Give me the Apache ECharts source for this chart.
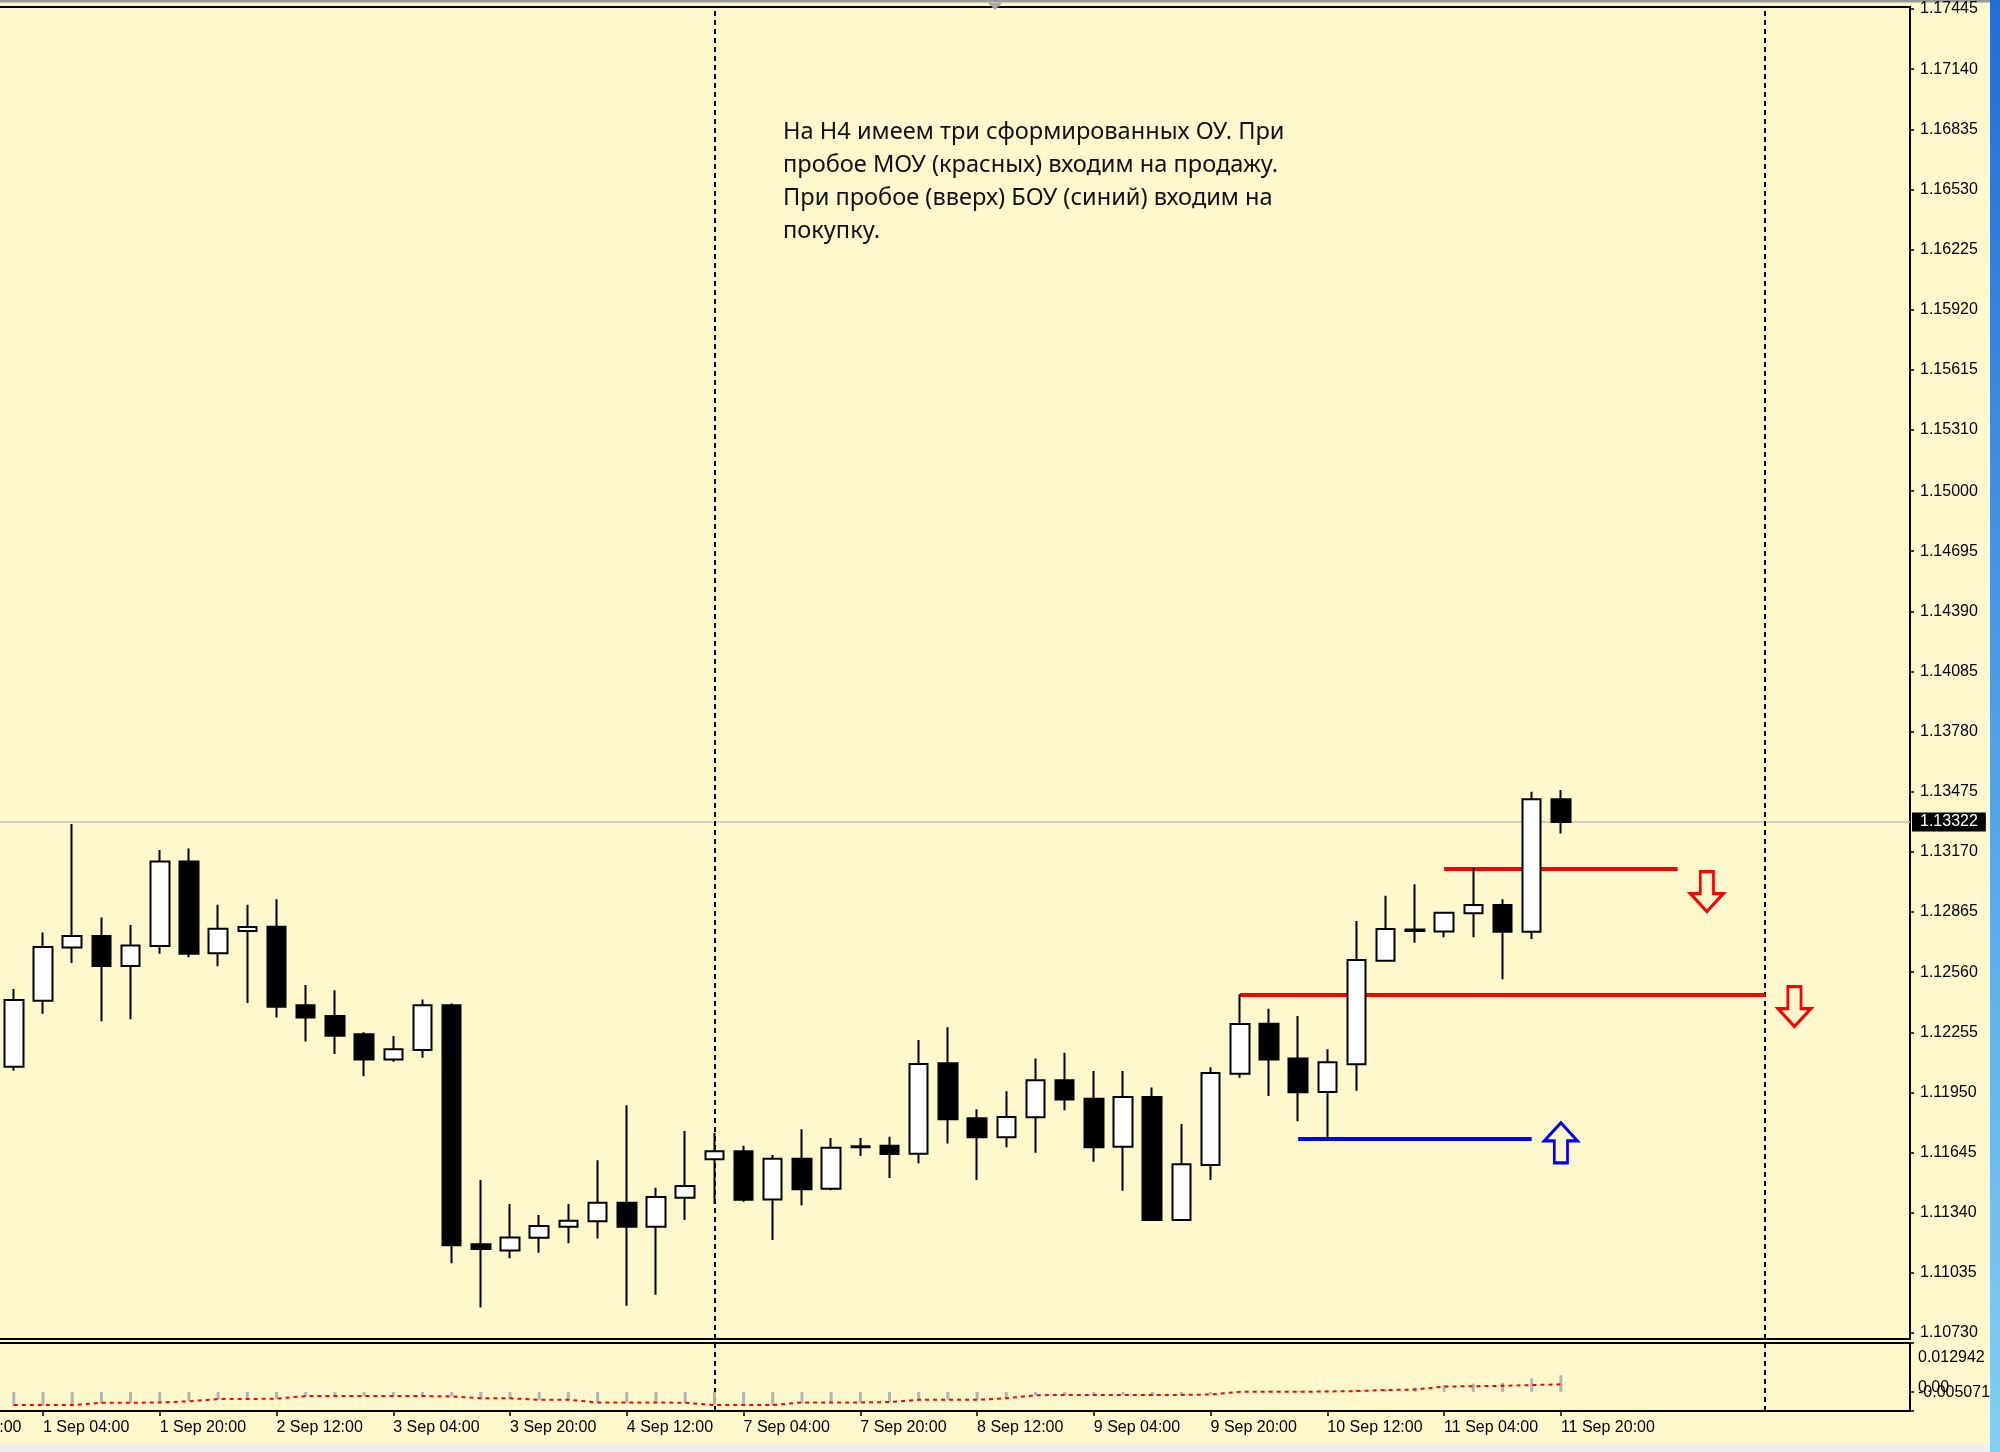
<!DOCTYPE html>
<html><head><meta charset="utf-8">
<script src="https://cdn.jsdelivr.net/npm/echarts@6/dist/echarts.min.js"></script>
<style>html,body{margin:0;padding:0;background:#FFF8CC;}#c{width:2000px;height:1452px;}</style>
</head><body><div id="c"></div>
<script>
// ---- data ----
const candleTimes = [
 '1 Sep 00:00','1 Sep 04:00','1 Sep 08:00','1 Sep 12:00','1 Sep 16:00','1 Sep 20:00',
 '2 Sep 00:00','2 Sep 04:00','2 Sep 08:00','2 Sep 12:00','2 Sep 16:00','2 Sep 20:00',
 '3 Sep 00:00','3 Sep 04:00','3 Sep 08:00','3 Sep 12:00','3 Sep 16:00','3 Sep 20:00',
 '4 Sep 00:00','4 Sep 04:00','4 Sep 08:00','4 Sep 12:00','4 Sep 16:00','4 Sep 20:00',
 '7 Sep 00:00','7 Sep 04:00','7 Sep 08:00','7 Sep 12:00','7 Sep 16:00','7 Sep 20:00',
 '8 Sep 00:00','8 Sep 04:00','8 Sep 08:00','8 Sep 12:00','8 Sep 16:00','8 Sep 20:00',
 '9 Sep 00:00','9 Sep 04:00','9 Sep 08:00','9 Sep 12:00','9 Sep 16:00','9 Sep 20:00',
 '10 Sep 00:00','10 Sep 04:00','10 Sep 08:00','10 Sep 12:00','10 Sep 16:00','10 Sep 20:00',
 '11 Sep 00:00','11 Sep 04:00','11 Sep 08:00','11 Sep 12:00','11 Sep 16:00','11 Sep 20:00'];
const openP  = [1.12081,1.12415,1.12686,1.12744,1.12591,1.12693,1.13122,1.12656,1.12769,1.12791,
  1.12392,1.12338,1.12245,1.12118,1.12165,1.12392,1.11180,1.11149,1.11213,1.11269,
  1.11297,1.11391,1.11269,1.11416,1.11611,1.11652,1.11408,1.11614,1.11462,1.11677,
  1.11680,1.11639,1.12098,1.11819,1.11723,1.11824,1.12012,1.11918,1.11675,1.11927,
  1.11303,1.11582,1.12045,1.12299,1.12123,1.11952,1.12093,1.12618,1.12777,1.12767,
  1.12859,1.12901,1.12765,1.13437];
const closeP = [1.12419,1.12688,1.12744,1.12591,1.12696,1.13122,1.12654,1.12781,1.12789,1.12385,
  1.12331,1.12238,1.12118,1.12169,1.12392,1.11175,1.11156,1.11215,1.11273,1.11300,
  1.11391,1.11269,1.11420,1.11476,1.11652,1.11406,1.11614,1.11460,1.11670,1.11673,
  1.11638,1.12094,1.11814,1.11723,1.11826,1.12012,1.11915,1.11673,1.11927,1.11303,
  1.11586,1.12049,1.12297,1.12118,1.11951,1.12103,1.12622,1.12779,1.12769,1.12862,
  1.12901,1.12765,1.13437,1.13322];
const lowP   = [1.12060,1.12349,1.12607,1.12312,1.12321,1.12654,1.12636,1.12590,1.12404,1.12331,
  1.12209,1.12145,1.12033,1.12106,1.12126,1.11084,1.10860,1.11109,1.11137,1.11185,
  1.11210,1.10868,1.10924,1.11303,1.11386,1.11396,1.11202,1.11378,1.11454,1.11628,
  1.11516,1.11591,1.11692,1.11506,1.11673,1.11644,1.11860,1.11599,1.11452,1.11303,
  1.11303,1.11506,1.12025,1.11932,1.11804,1.11714,1.11959,1.12618,1.12710,1.12737,
  1.12737,1.12524,1.12728,1.13264];
const highP  = [1.12475,1.12762,1.13312,1.12838,1.12799,1.13180,1.13188,1.12902,1.12902,1.12930,
  1.12495,1.12468,1.12255,1.12236,1.12422,1.12402,1.11506,1.11384,1.11329,1.11384,
  1.11607,1.11885,1.11467,1.11755,1.11746,1.11680,1.11633,1.11764,1.11719,1.11719,
  1.11726,1.12216,1.12281,1.11865,1.11957,1.12123,1.12152,1.12059,1.12059,1.11976,
  1.11790,1.12078,1.12448,1.12375,1.12338,1.12170,1.12820,1.12948,1.13006,1.12862,
  1.13090,1.12930,1.13475,1.13484];

const priceTickLabels = ['1.10730','1.11035','1.11340','1.11645','1.11950','1.12255','1.12560','1.12865',
  '1.13170','1.13475','1.13780','1.14085','1.14390','1.14695','1.15000','1.15310','1.15615','1.15920',
  '1.16225','1.16530','1.16835','1.17140','1.17445'];
const priceTicks = priceTickLabels.map(Number);
const xTickIdx = [-3,1,5,9,13,17,21,25,29,33,37,41,45,49,53];
const xTickLabels = ['31 Aug 12:00','1 Sep 04:00','1 Sep 20:00','2 Sep 12:00','3 Sep 04:00','3 Sep 20:00',
  '4 Sep 12:00','7 Sep 04:00','7 Sep 20:00','8 Sep 12:00','9 Sep 04:00','9 Sep 20:00','10 Sep 12:00',
  '11 Sep 04:00','11 Sep 20:00'];

const oscHist = [-0.0038,-0.0037,-0.0036,-0.0031,-0.0030,-0.0027,-0.0024,-0.0020,-0.0019,-0.0018,
  -0.0013,-0.0012,-0.0012,-0.0011,-0.0010,-0.0012,-0.0018,-0.0019,-0.0022,-0.0022,
  -0.0027,-0.0029,-0.0029,-0.0030,-0.0036,-0.0037,-0.0036,-0.0030,-0.0029,-0.0028,
  -0.0027,-0.0022,-0.0021,-0.0021,-0.0017,-0.0009,-0.0008,-0.0009,-0.0008,-0.0009,
  -0.0008,-0.0006,0.0002,0.0003,0.0003,0.0004,0.0006,0.0008,0.0012,0.0018,
  0.0022,0.0024,0.0036,0.0044];
const oscSignal = [-0.0035,-0.0035,-0.0035,-0.0029,-0.0029,-0.0028,-0.0025,-0.0019,-0.0019,-0.0018,
  -0.0011,-0.0011,-0.0011,-0.0011,-0.0011,-0.0012,-0.0017,-0.0017,-0.0021,-0.0021,
  -0.0028,-0.0028,-0.0028,-0.0029,-0.0035,-0.0035,-0.0035,-0.0028,-0.0028,-0.0028,
  -0.0027,-0.0021,-0.0021,-0.0021,-0.0017,-0.0009,-0.0008,-0.0008,-0.0008,-0.0008,
  -0.0008,-0.0007,0.0000,0.0000,0.0000,0.0001,0.0002,0.0005,0.0006,0.0014,
  0.0015,0.0016,0.0018,0.0020];
const oscMax = 0.012942, oscMin = -0.005071, oscZero = 0;
const oscMaxLabel = '0.012942', oscMinLabel = '-0.005071', oscZeroLabel = '0.00';

const lastPrice = 1.13322;
const separators = [24, 60];
const redLevel1 = [49, 57, 1.13083];
const redLevel2 = [42, 60, 1.12448];
const blueLevel = [44, 52, 1.11714];
const sellArrows = [[58, 1.12969], [61, 1.12386]];
const buyArrows = [[53, 1.11695]];
const noteLines = ['На H4 имеем три сформированных ОУ. При','пробое МОУ (красных) входим на продажу.',
  'При пробое (вверх) БОУ (синий) входим на','покупку.'];

// ---- chart ----
const BG = '#FFF8CC';
const FONT = 'Liberation Sans';
const candleData = openP.map((o, i) => [i, o, closeP[i], lowP[i], highP[i]]);
const histData = oscHist.map((v, i) => [i, v]);
const sigData = oscSignal.map((v, i) => [i, v]);
function nearestLabel(v, ticks, labels) {
  let best = 0;
  for (let i = 1; i < ticks.length; i++) if (Math.abs(ticks[i] - v) < Math.abs(ticks[best] - v)) best = i;
  return labels[best];
}
const downArrow = 'path://M9,0 L21,0 L21,22 L30,22 L15,40 L0,22 L9,22 Z';
const upArrow = 'path://M9,40 L21,40 L21,18 L30,18 L15,0 L0,18 L9,18 Z';
const sepLine = v => ({xAxis: v, lineStyle: {color: '#000', width: 2, type: [5, 4]}});
const seg = (lv, color) => [
  {coord: [lv[0], lv[2]], lineStyle: {color: color, width: 4, type: 'solid'}},
  {coord: [lv[1], lv[2]]}];
const arrowPt = (p, sym, color) => ({coord: p, symbol: sym, symbolSize: [33, 40],
  itemStyle: {color: BG, borderColor: color, borderWidth: 3}});
const labelBase = {fontSize: 16, fontFamily: FONT, color: '#000'};

const chart = echarts.init(document.getElementById('c'), null, {renderer: 'canvas'});
chart.setOption({
  backgroundColor: BG,
  animation: false,
  grid: [
    {left: -73.77, right: 90, top: 7, height: 1332, show: true, borderColor: '#000', borderWidth: 2,
     backgroundColor: 'transparent', containLabel: false, outerBoundsMode: 'none'},
    {left: -73.77, right: 90, top: 1343, height: 68, show: true, borderColor: '#000', borderWidth: 2,
     backgroundColor: 'transparent', containLabel: false, outerBoundsMode: 'none'}
  ],
  xAxis: [
    {gridIndex: 0, type: 'value', min: -3, max: 64.96, show: false},
    {gridIndex: 1, type: 'value', min: -3, max: 64.96, splitLine: {show: false},
     axisLine: {show: true, onZero: false, lineStyle: {color: '#000', width: 2}},
     axisTick: {show: true, length: 5, customValues: xTickIdx, lineStyle: {color: '#000', width: 1.5}},
     axisLabel: Object.assign({customValues: xTickIdx, align: 'left', margin: 9,
       hideOverlap: false, showMinLabel: true, showMaxLabel: true,
       formatter: v => nearestLabel(v, xTickIdx, xTickLabels)}, labelBase)}
  ],
  yAxis: [
    {gridIndex: 0, type: 'value', position: 'right', min: 1.10700, max: 1.17455, splitLine: {show: false},
     axisLine: {show: true, onZero: false, lineStyle: {color: '#000', width: 2}},
     axisTick: {show: true, length: 4, customValues: priceTicks, lineStyle: {color: '#000', width: 1.5}},
     axisLabel: Object.assign({customValues: priceTicks, margin: 10,
       hideOverlap: false, showMinLabel: true, showMaxLabel: true,
       formatter: v => nearestLabel(v, priceTicks, priceTickLabels)}, labelBase)},
    {gridIndex: 1, type: 'value', position: 'right', min: oscMin, max: oscMax, splitLine: {show: false},
     axisLine: {show: true, onZero: false, lineStyle: {color: '#000', width: 2}},
     axisTick: {show: true, length: 4, customValues: [oscMax, oscMin], lineStyle: {color: '#000', width: 1.5}},
     axisLabel: {customValues: [oscMax, oscMin], margin: 8,
       hideOverlap: false, showMinLabel: true, showMaxLabel: true,
       formatter: v => (v > 0 ? '{t|' + oscMaxLabel + '}' : '{b|' + oscMinLabel + '}'),
       rich: {t: Object.assign({padding: [30, 0, 0, 0]}, labelBase),
              b: Object.assign({padding: [0, 0, 36, 0]}, labelBase)}}},
    {gridIndex: 1, type: 'value', position: 'right', min: oscMin, max: oscMax, splitLine: {show: false},
     axisLine: {show: false, onZero: false},
     axisTick: {show: true, length: 4, customValues: [oscZero], lineStyle: {color: '#000', width: 1.5}},
     axisLabel: {customValues: [oscZero], margin: 8, hideOverlap: false, showMinLabel: true, showMaxLabel: true,
       formatter: () => '{z|' + oscZeroLabel + '}',
       rich: {z: Object.assign({padding: [0, 0, 8, 0]}, labelBase)}}}
  ],
  series: [
    {type: 'candlestick', xAxisIndex: 0, yAxisIndex: 0, data: candleData, barWidth: 19,
     itemStyle: {color: '#FFFFFF', color0: '#000000', borderColor: '#000000', borderColor0: '#000000', borderWidth: 2},
     markLine: {z: 1, silent: true, precision: 5, symbol: ['none', 'none'], label: {show: false},
       data: [
         {yAxis: lastPrice, lineStyle: {color: '#BEBEBE', width: 1.5, type: 'solid'},
          label: {show: true, position: 'end', distance: 2, formatter: () => lastPrice.toFixed(5),
            backgroundColor: '#000', color: '#fff', fontSize: 16, fontFamily: FONT, padding: [2, 8, 1, 8]}},
         sepLine(separators[0]), sepLine(separators[1]),
         seg(redLevel1, '#FF0000'), seg(redLevel2, '#FF0000'), seg(blueLevel, '#0000FF')
       ]},
     markPoint: {silent: true, label: {show: false},
       data: sellArrows.map(p => arrowPt(p, downArrow, '#FF0000')).concat(buyArrows.map(p => arrowPt(p, upArrow, '#0000FF')))}
    },
    {type: 'bar', xAxisIndex: 1, yAxisIndex: 1, data: histData, barWidth: 3, itemStyle: {color: '#B4B4B4'},
     markLine: {z: 1, silent: true, precision: 5, symbol: ['none', 'none'], label: {show: false},
       data: [sepLine(separators[0]), sepLine(separators[1])]}},
    {type: 'line', xAxisIndex: 1, yAxisIndex: 1, data: sigData, symbol: 'none',
     lineStyle: {color: '#FF0000', width: 2, type: [4, 4]}}
  ],
  graphic: [
    {type: 'text', left: 783, top: 116, silent: true,
     style: {text: noteLines.join('\n'), font: '23.6px "Noto Sans"', lineHeight: 33, fill: '#111'}},
    {type: 'polygon', silent: true, shape: {points: [[988, 3], [1002, 3], [995, 10]]}, style: {fill: '#A8A8A8'}},
    {type: 'rect', silent: true, shape: {x: 0, y: 0, width: 1990, height: 2.5}, style: {fill: '#9A9A9A'}},
    {type: 'rect', silent: true, shape: {x: 0, y: 1443, width: 1990, height: 9}, style: {fill: '#EFEFEF'}},
    {type: 'rect', silent: true, shape: {x: 1990, y: 0, width: 10, height: 1452},
     style: {fill: new echarts.graphic.LinearGradient(0, 0, 0, 1, [{offset: 0, color: '#1F6FD6'}, {offset: 1, color: '#7FD0F4'}])}}
  ]
});
</script></body></html>
